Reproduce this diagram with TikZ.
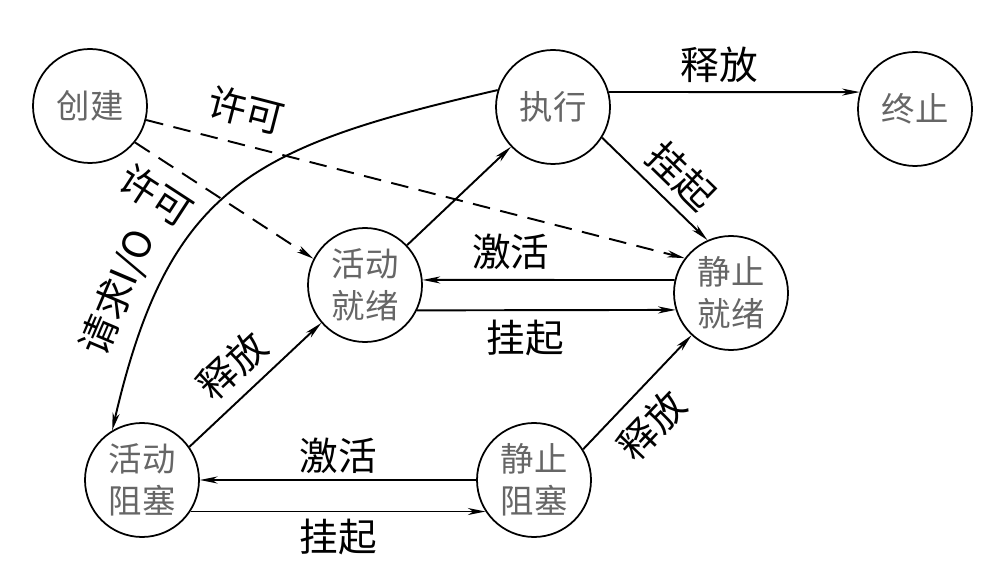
\documentclass[tikz,border=0pt]{standalone}
\usepackage{fontspec}
\newfontfamily\cjk{Noto Sans CJK SC}
\usetikzlibrary{arrows.meta}

\begin{document}
\begin{tikzpicture}[
  state/.style={draw, circle, line width=1pt, minimum size=2.28cm, inner sep=0pt,
    align=center, font=\cjk\fontsize{19}{24}\selectfont, text=black!60},
  lbl/.style={font=\cjk\fontsize{22}{24}\selectfont, inner sep=2pt},
  flow/.style={line width=1.1pt, -{Stealth[length=10pt, width=4pt, inset=3pt]}},
  permit/.style={flow, dash pattern=on 10pt off 6pt}
]
  \useasboundingbox (0,0) rectangle (19.72,11.46);

  % states
  \node[state] (create) at (1.80,9.34) {创建};
  \node[state] (run) at (11.06,9.32) {执行};
  \node[state] (exit) at (18.30,9.28) {终止};
  \node[state] (ready) at (7.30,5.76) {活动\\就绪};
  \node[state] (sready) at (14.62,5.60) {静止\\就绪};
  \node[state] (blocked) at (2.84,1.86) {活动\\阻塞};
  \node[state] (sblocked) at (10.68,1.86) {静止\\阻塞};

  % transitions
  \draw[flow] (run.15) -- node[lbl, pos=0.44, above=3pt] {释放} (exit.163);
  \draw[flow] (ready) -- (run);
  \draw[flow] (run.-32) -- node[lbl, sloped, pos=0.57, above=3pt] {挂起} (sready.114);
  \draw[flow] (sready.167) -- node[lbl, pos=0.65, above=3.5pt] {激活} (ready.5);
  \draw[flow] (ready.-26) -- node[lbl, pos=0.42, below=3pt] {挂起} (sready.197);
  \draw[flow] (sblocked.180) -- node[lbl, above=1pt] {激活} (blocked.0);
  \draw[flow] (blocked.-33) -- node[lbl, below=2pt] {挂起} (sblocked.213);
  \draw[flow] (blocked.35) -- node[lbl, sloped, pos=0.48, above=4.5pt] {释放} (ready.221);
  \draw[flow] (sblocked.32) -- node[lbl, sloped, pos=0.41, below=6pt] {释放} (sready.227);
  \draw[flow] (run.163) to[out=193, in=77, looseness=1.25]
    node[lbl, sloped, pos=0.8, above=6pt] {请求I/O} (blocked.121);

  % admission
  \draw[permit] (create.-14) -- node[lbl, sloped, pos=0.17, above=7pt] {许可} (sready.143);
  \draw[permit] (create.-39) -- node[lbl, sloped, pos=0.22, below=6pt] {许可} (ready.153);
\end{tikzpicture}
\end{document}
